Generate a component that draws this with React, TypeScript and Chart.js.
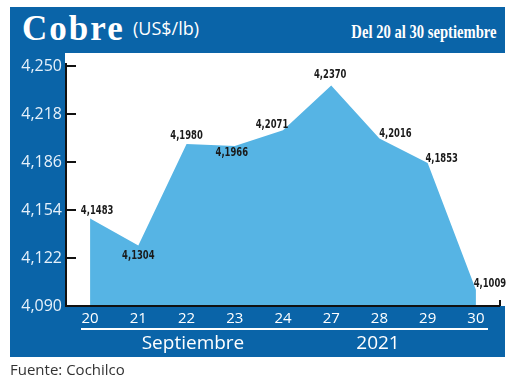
import React, { useEffect, useRef } from "react";
import { Chart, registerables } from "chart.js";

Chart.register(...registerables);

const days = ["20", "21", "22", "23", "24", "27", "28", "29", "30"];
const prices = [4.1483, 4.1304, 4.198, 4.1966, 4.2071, 4.237, 4.2016, 4.1853, 4.1009];
const yTicks = [4.09, 4.122, 4.154, 4.186, 4.218, 4.25];
const titleMain = "Cobre";
const titleUnit = "(US$/lb)";
const titleRange = "Del 20 al 30 septiembre";
const monthLabel = "Septiembre";
const yearLabel = "2021";
const sourceLabel = "Fuente: Cochilco";

// label offsets (style): [dx, dy] relative to point
const labelOffsets: [number, number][] = [
  [7, -8], [0, 10], [0, -8], [-3, 7], [-11, -6], [-1, -11], [16, -5], [14, -4], [14, -6],
];

const BLUE = "#0a64a8";
const FILL = "#56b4e4";

const fmtY = (v: number) => v.toFixed(3).replace(".", ",");
const fmtLabel = (v: number) => v.toFixed(4).replace(".", ",");

export default function App() {
  const canvasRef = useRef<HTMLCanvasElement | null>(null);

  useEffect(() => {
    if (!canvasRef.current) return;
    const axesPlugin = {
      id: "customAxes",
      afterDatasetsDraw(chart: any) {
        const ctx = chart.ctx;
        const y = chart.scales.y;
        const area = chart.chartArea;
        ctx.save();
        ctx.strokeStyle = "#111";
        ctx.lineWidth = 2;
        ctx.beginPath();
        ctx.moveTo(area.left, area.top - 3);
        ctx.lineTo(area.left, area.bottom + 1);
        ctx.moveTo(area.left - 1, area.bottom);
        ctx.lineTo(area.right, area.bottom);
        ctx.moveTo(area.right, area.bottom);
        ctx.lineTo(area.right, area.bottom - 6);
        yTicks.forEach((v) => {
          const py = y.getPixelForValue(v);
          ctx.moveTo(area.left, py);
          ctx.lineTo(area.left + 10, py);
        });
        ctx.stroke();

        // data labels
        const meta = chart.getDatasetMeta(0);
        ctx.fillStyle = "#1a1a1a";
        ctx.textAlign = "center";
        ctx.textBaseline = "middle";
        ctx.font = "bold 13px 'Liberation Sans Narrow', 'DejaVu Sans Condensed', sans-serif";
        meta.data.forEach((pt: any, i: number) => {
          const [dx, dy] = labelOffsets[i] || [0, -8];
          ctx.save();
          ctx.translate(pt.x + dx, pt.y + dy);
          ctx.scale(0.72, 1);
          ctx.fillText(fmtLabel(prices[i]), 0, 0);
          ctx.restore();
        });
        ctx.restore();
      },
    };

    const chart = new Chart(canvasRef.current, {
      type: "line",
      data: {
        labels: days,
        datasets: [
          {
            data: prices,
            fill: "start",
            backgroundColor: FILL,
            borderWidth: 0,
            borderColor: FILL,
            pointRadius: 0,
            tension: 0,
          },
        ],
      },
      options: {
        responsive: false,
        maintainAspectRatio: false,
        animation: false,
        layout: { padding: { left: 0, right: 20, top: 66, bottom: 47 } },
        plugins: { legend: { display: false }, tooltip: { enabled: false } },
        scales: {
          x: {
            offset: true,
            grid: { display: false, drawTicks: false },
            border: { display: false },
            afterFit: (s: any) => {
              s.height = 30;
            },
            ticks: {
              color: "#ffffff",
              padding: 4,
              maxRotation: 0,
              font: { family: "'Open Sans', sans-serif", size: 15 },
            },
          },
          y: {
            min: 4.09,
            max: 4.25,
            grid: { display: false, drawTicks: false },
            border: { display: false },
            afterFit: (s: any) => {
              s.width = 66;
            },
            afterBuildTicks: (s: any) => {
              s.ticks = yTicks.map((v) => ({ value: v }));
            },
            ticks: {
              color: "#e6f1fb",
              padding: 4,
              font: { family: "'Open Sans', sans-serif", size: 16 },
              callback: (v: any) => fmtY(Number(v)),
            },
          },
        },
      },
      plugins: [axesPlugin],
    });
    return () => chart.destroy();
  }, []);

  const abs = (s: React.CSSProperties): React.CSSProperties => ({
    position: "absolute",
    whiteSpace: "nowrap",
    ...s,
  });

  return (
    <div style={abs({ left: 0, top: 0, width: 520, height: 383, background: "#fff", overflow: "hidden" })}>
      <div style={abs({ left: 10, top: 7, width: 495, height: 350, background: BLUE })} />
      <div style={abs({ left: 65, top: 53, width: 455, height: 253, background: "#fff" })} />
      <span
        style={abs({
          left: 22,
          top: 11,
          lineHeight: "35px",
          fontSize: 35,
          letterSpacing: 2,
          fontWeight: "bold",
          fontFamily: "'Liberation Serif', serif",
          color: "#fff",
        })}
      >
        {titleMain}
      </span>
      <span
        style={abs({
          left: 133,
          top: 19,
          lineHeight: "18px",
          fontSize: 18,
          fontFamily: "'Open Sans', sans-serif",
          color: "#fff",
        })}
      >
        {titleUnit}
      </span>
      <span
        style={abs({
          right: 23,
          top: 22,
          lineHeight: "19px",
          fontSize: 19,
          fontWeight: "bold",
          fontFamily: "'Liberation Serif', serif",
          color: "#fff",
          transform: "scaleX(0.77)",
          transformOrigin: "right center",
        })}
      >
        {titleRange}
      </span>
      <canvas ref={canvasRef} width={520} height={383} style={abs({ left: 0, top: 0, width: 520, height: 383 })} />
      <div style={abs({ left: 81, top: 328, width: 407, height: 2, background: "#fff" })} />
      <span
        style={abs({
          left: 193,
          top: 333,
          lineHeight: "19px",
          fontSize: 19,
          fontFamily: "'Open Sans', sans-serif",
          color: "#fff",
          transform: "translateX(-50%)",
        })}
      >
        {monthLabel}
      </span>
      <span
        style={abs({
          left: 378,
          top: 333,
          lineHeight: "19px",
          fontSize: 19,
          fontFamily: "'Open Sans', sans-serif",
          color: "#fff",
          transform: "translateX(-50%)",
        })}
      >
        {yearLabel}
      </span>
      <span
        style={abs({
          left: 10,
          top: 362,
          lineHeight: "15px",
          fontSize: 15,
          fontFamily: "'Open Sans', sans-serif",
          color: "#333",
        })}
      >
        {sourceLabel}
      </span>
    </div>
  );
}
